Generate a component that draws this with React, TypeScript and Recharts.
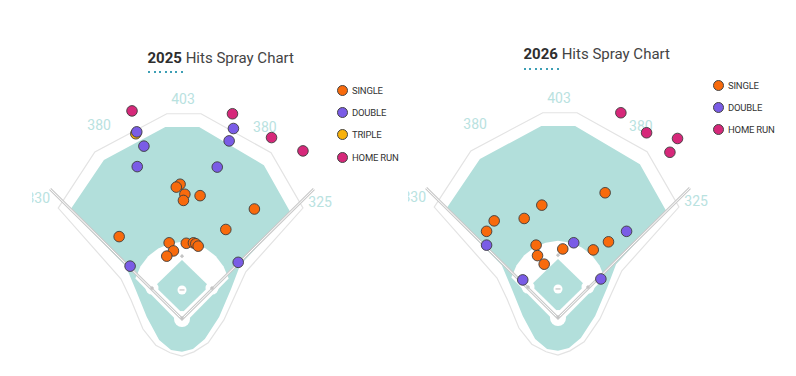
import React from 'react';
import { ScatterChart, Scatter, XAxis, YAxis } from 'recharts';

type Pt = [number, number];

// hit locations in feet, home plate at 0,0 (x: left/right, y: out to center field)
const singles2025: Pt[] = [
  [-4, 283], [-12, 277], [6, 262], [3, 249], [38, 259], [152, 231], [-132, 173], [92, 188],
  [-27, 160], [-18, 143], [-32, 132], [9, 159], [24, 160], [29, 158], [34, 153],
];
const doubles2025: Pt[] = [
  [-95, 393], [-80, 363], [-94, 320], [108, 400], [99, 374], [74, 319], [-109, 111], [118, 119],
];
const triples2025: Pt[] = [[-97, 389]];
const homeRuns2025: Pt[] = [[-105, 437], [106, 431], [188, 381], [254, 353]];

const singles2026: Pt[] = [
  [99, 263], [-34, 237], [-71, 209], [-134, 204], [-150, 182], [106, 160],
  [74, 143], [10, 145], [-46, 153], [-43, 131], [-29, 113],
];
const doubles2026: Pt[] = [[144, 182], [33, 158], [-150, 153], [-74, 80], [90, 82]];
const homeRuns2026: Pt[] = [[132, 431], [186, 389], [251, 377], [235, 348]];

const HIT_TYPES = ['SINGLE', 'DOUBLE', 'TRIPLE', 'HOME RUN'];

// ballpark shape, feet
const wallOutline: Pt[] = [
  [-260, 233], [-183, 351], [-32, 431], [40, 431], [187, 349], [254, 233],
  [134, 99], [113, 53], [88, -2], [55, -50], [25, -69], [0, -78], [-25, -71],
  [-55, -55], [-82, -21], [-107, 40], [-128, 84],
];
const outfieldGrass: Pt[] = [
  [-235, 229], [-164, 334], [-35, 403], [36, 403], [172, 323], [227, 225],
  [122, 113], [103, 63], [78, 4], [48, -42], [23, -63], [0, -69], [-23, -65],
  [-48, -44], [-74, 4], [-97, 61], [-118, 111],
];
const infieldDirt: Pt[] = [
  [-98, 85], [-87, 111], [-71, 132], [-50, 148], [-26, 158], [0, 162], [26, 158],
  [50, 148], [71, 132], [87, 111], [98, 85], [10, -4], [-10, -4],
];
const infieldGrass: Pt[] = [[0, 124], [-57, 69], [0, 13], [57, 69]];
const cornerBases: Pt[] = [[-63, 65], [63, 65]];
const allBases: Pt[] = [[-63, 65], [0, 132], [63, 65], [0, 2]];
const homePlate: Pt[] = [[0, 0]];
const mound: Pt[] = [[0, 61]];
const foulLines: Pt[] = [[-277, 273], [0, 0], [277, 273]];

const wallDistances = ['330', '380', '403', '380', '325'];
const wallDistanceSpots: Pt[] = [[-302, 255], [-174, 407], [2, 463], [174, 403], [290, 245]];

const COLORS: Record<string, string> = {
  SINGLE: '#f86a0c',
  DOUBLE: '#7a5ce6',
  TRIPLE: '#f8b10a',
  'HOME RUN': '#d6287a',
};
const GRASS = '#b2dfdb';
const FT_PER_PX = 2.1;
const W = 376;
const H = 376;

const toRows = (pts: Pt[]) => pts.map(([x, y]) => ({ x, y }));
const noShape = () => null;

const polygon = (key: string, pts: Pt[], fill: string, stroke = 'none', strokeWidth = 0) => (
  <Scatter
    key={key}
    data={toRows(pts)}
    shape={noShape}
    line={{ fill, stroke, strokeWidth }}
    lineJointType="linearClosed"
    legendType="none"
    isAnimationActive={false}
  />
);

const circles = (key: string, pts: Pt[], r: number, fill: string) => (
  <Scatter
    key={key}
    data={toRows(pts)}
    shape={(p: any) => <circle cx={p.cx} cy={p.cy} r={r} fill={fill} />}
    legendType="none"
    isAnimationActive={false}
  />
);

interface Season {
  year: string;
  hits: { name: string; data: Pt[] }[];
  left: number;
  homeY: number;
  titleTop: number;
  legendTop: number;
}

function SprayChart({ year, hits, left, homeY, titleTop, legendTop }: Season) {
  const xDomain = [-150 * FT_PER_PX, (W - 150) * FT_PER_PX];
  const yDomain = [-(H - homeY) * FT_PER_PX, homeY * FT_PER_PX];
  const legendNames = HIT_TYPES.filter((t) => hits.some((h) => h.name === t));

  return (
    <div style={{ position: 'absolute', left, top: 0, width: W, height: H }}>
      <ScatterChart width={W} height={H} margin={{ top: 0, right: 0, bottom: 0, left: 0 }}>
        <XAxis type="number" dataKey="x" domain={xDomain} hide allowDataOverflow />
        <YAxis type="number" dataKey="y" domain={yDomain} hide allowDataOverflow />

        {polygon('wall', wallOutline, '#ffffff', '#e3e3e3', 1.2)}
        {polygon('grass', outfieldGrass, GRASS)}
        {polygon('dirt', infieldDirt, '#ffffff')}
        {polygon('infield', infieldGrass, GRASS)}
        {circles('cutouts', cornerBases, 6.5, '#ffffff')}
        {circles('home', homePlate, 8, '#ffffff')}

        <Scatter
          data={toRows(foulLines)}
          shape={noShape}
          line={{ stroke: '#cacaca', strokeWidth: 3, fill: 'none' }}
          legendType="none"
          isAnimationActive={false}
        />
        <Scatter
          data={toRows(foulLines)}
          shape={noShape}
          line={{ stroke: '#ffffff', strokeWidth: 1, fill: 'none' }}
          legendType="none"
          isAnimationActive={false}
        />

        <Scatter
          data={toRows(mound)}
          shape={(p: any) => (
            <g>
              <circle cx={p.cx} cy={p.cy} r={4.5} fill="#ffffff" />
              <rect x={p.cx - 2.5} y={p.cy - 0.6} width={5} height={1.2} fill="#c4c4c4" />
            </g>
          )}
          legendType="none"
          isAnimationActive={false}
        />
        <Scatter
          data={toRows(allBases)}
          shape={(p: any) => (
            <rect
              x={p.cx - 1.5}
              y={p.cy - 1.5}
              width={3}
              height={3}
              fill="#c4c4c4"
              transform={`rotate(45 ${p.cx} ${p.cy})`}
            />
          )}
          legendType="none"
          isAnimationActive={false}
        />

        <Scatter
          data={wallDistanceSpots.map(([x, y], i) => ({ x, y, label: wallDistances[i] }))}
          shape={(p: any) => (
            <text
              x={p.cx}
              y={p.cy}
              textAnchor="middle"
              dominantBaseline="central"
              fontSize={14}
              fontFamily="Roboto, sans-serif"
              fill="#b9e2df"
            >
              {p.payload.label}
            </text>
          )}
          legendType="none"
          isAnimationActive={false}
        />

        {hits.map((h) => (
          <Scatter
            key={h.name}
            name={h.name}
            data={toRows(h.data)}
            shape={(p: any) => (
              <circle cx={p.cx} cy={p.cy} r={5.3} fill={COLORS[h.name]} stroke="#3d3d3d" strokeWidth={0.9} />
            )}
            isAnimationActive={false}
          />
        ))}
      </ScatterChart>

      {/* title */}
      <div
        style={{
          position: 'absolute',
          left: 115.5,
          top: titleTop,
          fontFamily: 'Roboto, sans-serif',
          fontSize: 15,
          lineHeight: '15px',
          color: '#444',
          whiteSpace: 'nowrap',
        }}
      >
        <span style={{ fontWeight: 700, color: '#2e2e2e' }}>{year}</span> Hits Spray Chart
      </div>
      <div
        style={{
          position: 'absolute',
          left: 115.5,
          top: titleTop + 20.5,
          width: 35,
          height: 2,
          background: 'repeating-linear-gradient(90deg, #3d9fb5 0 2px, transparent 2px 5.5px)',
        }}
      />

      {/* legend */}
      {legendNames.map((name, i) => (
        <div
          key={name}
          style={{
            position: 'absolute',
            left: 305,
            top: legendTop + i * 22.4 - 6,
            height: 12,
            display: 'flex',
            alignItems: 'center',
            fontFamily: 'Roboto, sans-serif',
            fontSize: 9.5,
            color: '#333',
            whiteSpace: 'nowrap',
          }}
        >
          <span
            style={{
              width: 11,
              height: 11,
              borderRadius: '50%',
              boxSizing: 'border-box',
              border: '1px solid #444',
              background: COLORS[name],
              marginRight: 4,
            }}
          />
          <span style={{ letterSpacing: -0.2 }}>{name}</span>
        </div>
      ))}
    </div>
  );
}

export default function App() {
  return (
    <div
      style={{
        position: 'absolute',
        left: 0,
        top: 0,
        width: 796,
        height: 376,
        background: '#ffffff',
        overflow: 'hidden',
      }}
    >
      <SprayChart
        year="2025"
        hits={[
          { name: 'SINGLE', data: singles2025 },
          { name: 'TRIPLE', data: triples2025 },
          { name: 'DOUBLE', data: doubles2025 },
          { name: 'HOME RUN', data: homeRuns2025 },
        ]}
        left={32}
        homeY={319}
        titleTop={50.7}
        legendTop={90}
      />
      <SprayChart
        year="2026"
        hits={[
          { name: 'SINGLE', data: singles2026 },
          { name: 'DOUBLE', data: doubles2026 },
          { name: 'HOME RUN', data: homeRuns2026 },
        ]}
        left={408}
        homeY={318}
        titleTop={47.4}
        legendTop={85}
      />
    </div>
  );
}
